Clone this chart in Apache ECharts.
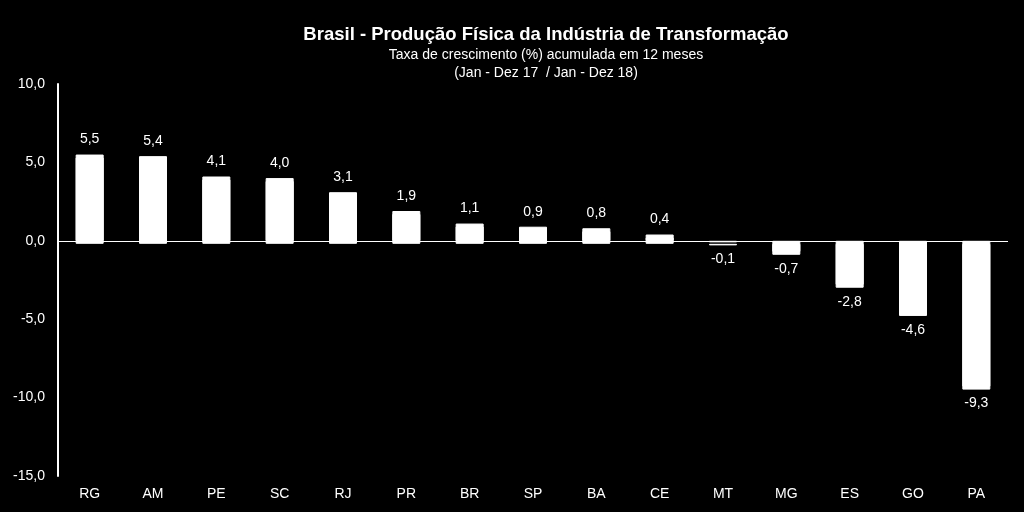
<!DOCTYPE html>
<html><head><meta charset="utf-8">
<script src="https://cdn.jsdelivr.net/npm/echarts@6/dist/echarts.min.js"></script>
<style>html,body{margin:0;padding:0;background:#000;}#c{width:1024px;height:512px;}</style>
</head><body><div id="c"></div>
<script>
const categories = ['RG','AM','PE','SC','RJ','PR','BR','SP','BA','CE','MT','MG','ES','GO','PA'];
const values = [5.5,5.4,4.1,4.0,3.1,1.9,1.1,0.9,0.8,0.4,-0.1,-0.7,-2.8,-4.6,-9.3];
const titleText = 'Brasil - Produção Física da Indústria de Transformação';
const subText = 'Taxa de crescimento (%) acumulada em 12 meses\n(Jan - Dez 17  / Jan - Dez 18)';

const fmt = v => v.toFixed(1).replace('.', ',');
const chart = echarts.init(document.getElementById('c'));
chart.setOption({
  backgroundColor: '#000',
  animation: false,
  title: {
    text: titleText, subtext: subText, left: 541, top: 20, textAlign: 'center', itemGap: 2,
    textStyle: {color: '#fff', fontFamily: 'Liberation Sans', fontWeight: 'bold', fontSize: 18.5},
    subtextStyle: {color: '#fff', fontFamily: 'Liberation Sans', fontSize: 14, lineHeight: 18}
  },
  grid: {left: 58, right: 16, top: 84, bottom: 36, containLabel: false},
  xAxis: {
    type: 'category', data: categories, position: 'bottom',
    axisLine: {show: false}, axisTick: {show: false},
    axisLabel: {color: '#fff', fontFamily: 'Liberation Sans', fontSize: 14, margin: 11}
  },
  yAxis: {
    type: 'value', min: -15, max: 10, interval: 5,
    axisLine: {show: true, onZero: false, lineStyle: {color: '#fff', width: 2}},
    axisTick: {show: false}, splitLine: {show: false},
    axisLabel: {color: '#fff', fontFamily: 'Liberation Sans', fontSize: 14, margin: 13, formatter: fmt}
  },
  series: [{
    type: 'line', data: [], z: 1, silent: true,
    markLine: {
      silent: true, symbol: 'none', label: {show: false}, z: 1,
      lineStyle: {color: '#fff', width: 1, type: 'solid'},
      data: [{yAxis: 0}]
    }
  }, {
    type: 'bar', barWidth: 28, z: 5,
    data: values.map(v => v < 0 ? {value: v, label: {position: 'bottom', distance: 10}} : v),
    itemStyle: {color: '#fff', borderColor: '#fff', borderWidth: 1, shadowColor: '#fff', shadowOffsetX: 0, shadowOffsetY: 3, shadowBlur: 0},
    label: {
      show: true, color: '#fff', fontFamily: 'Liberation Sans', fontSize: 14, distance: 8,
      formatter: p => fmt(p.value),
      position: 'top'
    }
  }]
});
</script></body></html>
